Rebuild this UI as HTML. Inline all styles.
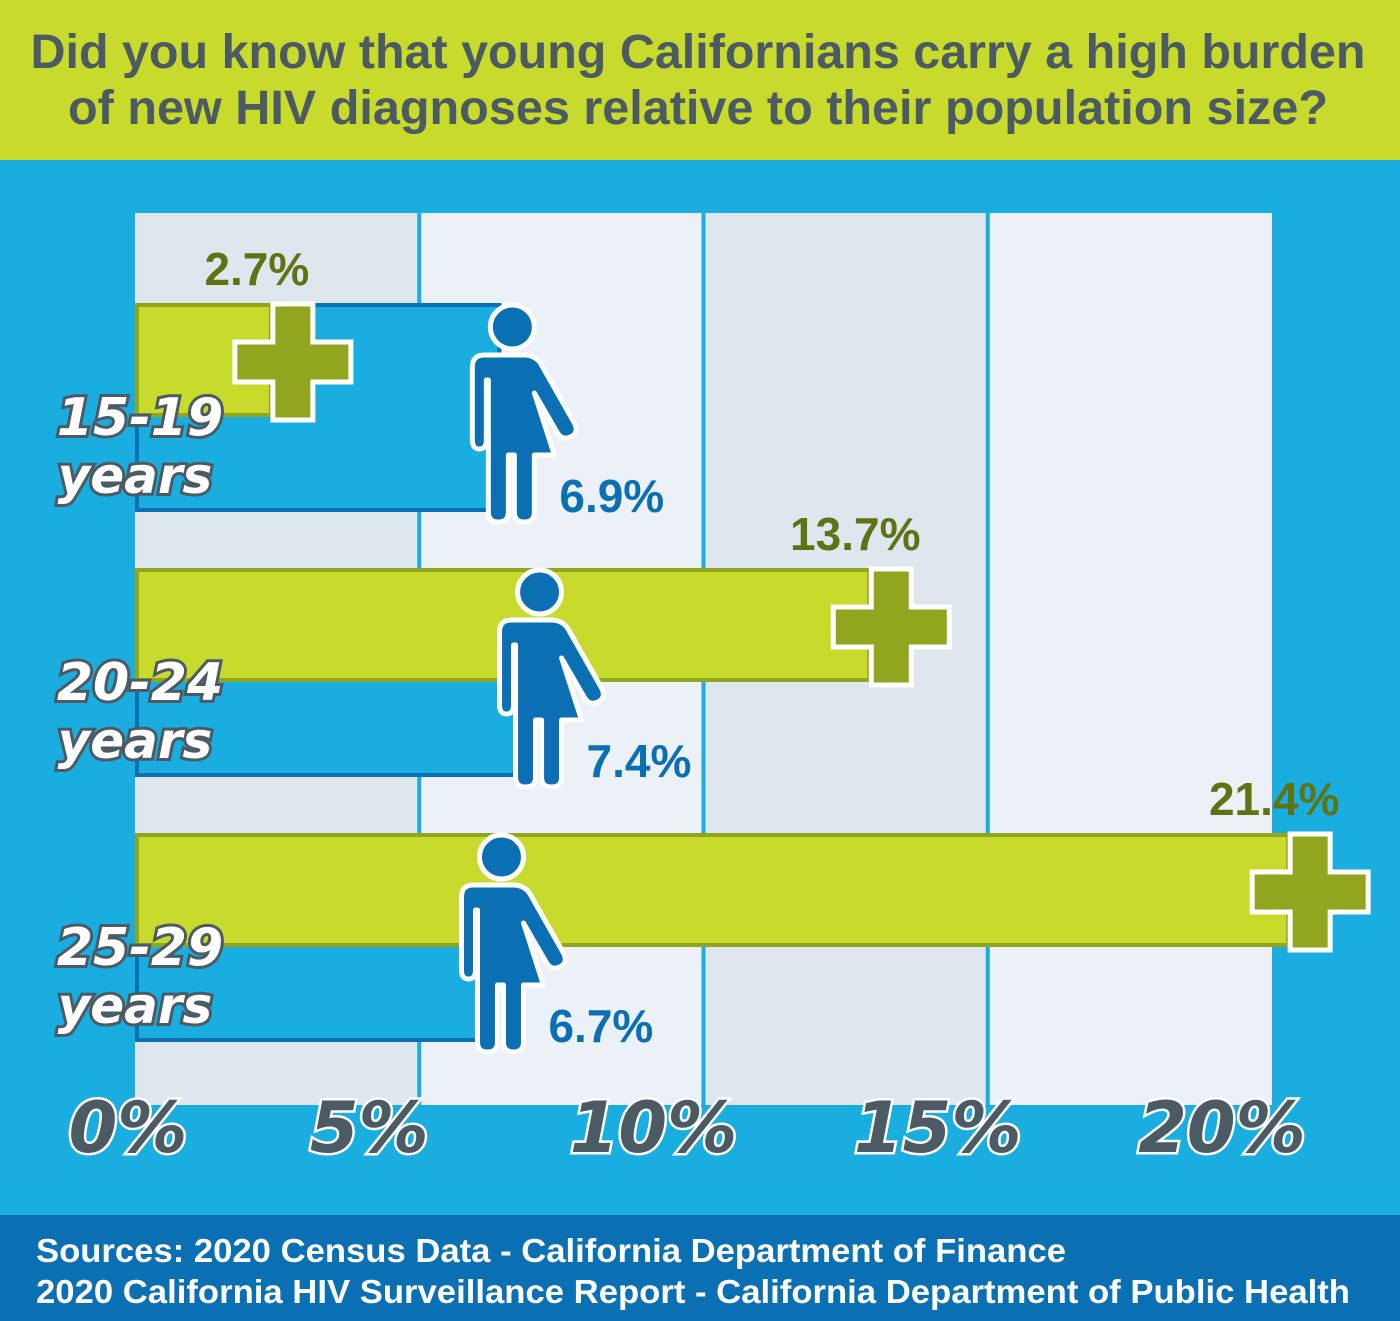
<!DOCTYPE html>
<html><head><meta charset="utf-8"><style>
html,body{margin:0;padding:0;width:1400px;height:1321px;overflow:hidden;background:#1aaee0}
svg{display:block}
</style></head><body>
<svg id="c" width="1400" height="1321" xmlns="http://www.w3.org/2000/svg" font-family="Liberation Sans, sans-serif">
<rect x="0" y="0" width="1400" height="160" fill="#c8da2c"/>
<text x="698" y="68" text-anchor="middle" font-size="48" font-weight="bold" fill="#4b5a63" textLength="1335" lengthAdjust="spacingAndGlyphs">Did you know that young Californians carry a high burden</text>
<text x="698" y="124" text-anchor="middle" font-size="48" font-weight="bold" fill="#4b5a63" textLength="1260" lengthAdjust="spacingAndGlyphs">of new HIV diagnoses relative to their population size?</text>
<rect x="0" y="160" width="1400" height="1055" fill="#1aaee0"/>
<g id="plot"></g>
<g id="ticks"></g>
<rect x="0" y="1215" width="1400" height="106" fill="#0b70b3"/>
<text x="36" y="1262" font-size="33" font-weight="bold" fill="#fff" textLength="1030" lengthAdjust="spacingAndGlyphs">Sources: 2020 Census Data - California Department of Finance</text>
<text x="36" y="1303" font-size="33" font-weight="bold" fill="#fff" textLength="1314" lengthAdjust="spacingAndGlyphs">2020 California HIV Surveillance Report - California Department of Public Health</text>
</svg>
<script>
const categories=["15-19","20-24","25-29"];
const hivShare=[2.7,13.7,21.4];
const popShare=[6.9,7.4,6.7];
const tickValues=[0,5,10,15,20];
const tickLabels=["0%","5%","10%","15%","20%"];

const NS="http://www.w3.org/2000/svg";
const plot=document.getElementById('plot');
const ticks=document.getElementById('ticks');
function el(tag,attrs,parent){const e=document.createElementNS(NS,tag);for(const k in attrs)e.setAttribute(k,attrs[k]);(parent||plot).appendChild(e);return e;}
function xAxis(v){return 135+v*(1272-135)/20;}
function xBar(v){return 124+v*54.4;}
function yGroup(i){return 305+i*265;}

for(let i=0;i<tickValues.length-1;i++){
  const r=el('rect',{x:xAxis(tickValues[i]),y:213,width:xAxis(tickValues[i+1])-xAxis(tickValues[i]),height:892,fill:i%2===0?'#dee6ee':'#ecf0f7'});
  
  
}
for(let i=1;i<tickValues.length-1;i++){
  const l=el('line',{x1:xAxis(tickValues[i]),x2:xAxis(tickValues[i]),y1:213,y2:1105,stroke:'#1aaee0','stroke-width':4});
  
  
}
tickValues.forEach((v,i)=>{
  const t=el('text',{x:i===0?128:xAxis(v)-50,y:1152,'text-anchor':'middle','font-family':'DejaVu Sans, sans-serif','font-size':70,'font-style':'italic','font-weight':'bold',fill:'#4b5a63',stroke:'#fff','stroke-width':5,'paint-order':'stroke'},ticks);
  t.textContent=tickLabels[i];
  
  
});

function cross(cx,cy,g){
  const p=el('path',{d:`M${cx-20},${cy-58}h40v38h38v40h-38v38h-40v-38h-38v-40h38z`,fill:'#92a51f',stroke:'#fff','stroke-width':5},g);
  
  
}
function person(cx,top,g){
  const gg=el('g',{fill:'#0b70b3',stroke:'#fff','stroke-width':5,'stroke-linejoin':'round'},g);
  
  
  el('circle',{cx:cx,cy:top+22,r:22},gg);
  el('path',{d:`M${cx-40},${top+62}q0-12 12-12h40q10 0 16 8l34 60q5 10-4 14q-9 4-14-6l-22-38l20 62h-20v57q0 10-10 10q-10 0-10-10v-57h-6v57q0 10-10 10q-10 0-10-10v-132h-2v60q0 9-7 9q-7 0-7-9z`},gg);
}

categories.forEach((c,i)=>{
  const g=el('g',{});
  
  
  const y=yGroup(i);
  const bx=el('rect',{x:137,y:y,width:xBar(popShare[i])-137,height:205,fill:'#1aaee0',stroke:'#0b70b3','stroke-width':4},g);
  
  
  const gx=el('rect',{x:137,y:y,width:xBar(hivShare[i])-137,height:110,fill:'#c8da2c',stroke:'#92a51f','stroke-width':4},g);
  
  
  const ce=xBar(hivShare[i])+22;
  cross(ce,y+57,g);
  const gl=el('text',{x:ce-36,y:y-20,'text-anchor':'middle','font-size':46,'font-weight':'bold',fill:'#5f7314'},g);
  gl.textContent=hivShare[i].toFixed(1)+'%';
  
  
  const pe=xBar(popShare[i]);
  person(pe+13,y,g);
  const bl=el('text',{x:pe+60,y:y+207,'font-size':46,'font-weight':'bold',fill:'#0b70b3'},g);
  bl.textContent=popShare[i].toFixed(1)+'%';
  
  
  const a=el('text',{x:140,y:y+130,'text-anchor':'middle','font-family':'DejaVu Sans, sans-serif','font-size':52,'font-style':'italic','font-weight':'bold',fill:'#fff',stroke:'#4b5a63','stroke-width':6,'paint-order':'stroke'},g);
  a.textContent=c;
  
  
  const yr=el('text',{x:135,y:y+188,'text-anchor':'middle','font-family':'DejaVu Sans, sans-serif','font-size':50,'font-style':'italic','font-weight':'bold',fill:'#fff',stroke:'#4b5a63','stroke-width':6,'paint-order':'stroke'},g);
  yr.textContent='years';
  
  
});
</script>
</body></html>
